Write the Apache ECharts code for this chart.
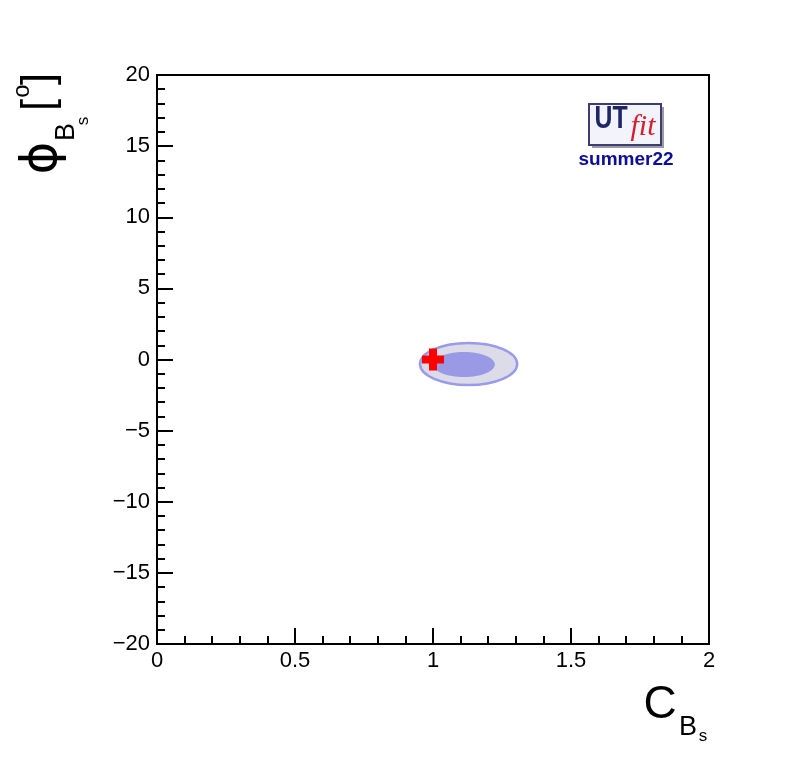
<!DOCTYPE html>
<html>
<head>
<meta charset="utf-8">
<script src="https://cdn.jsdelivr.net/npm/echarts@6/dist/echarts.min.js"></script>
<style>html,body{margin:0;padding:0;background:#fff}#c{width:788px;height:758px}</style>
</head>
<body>
<div id="c"></div>
<script>
// ---- data ----
const xTicks = [0, 0.5, 1, 1.5, 2];
const yTicks = [-20, -15, -10, -5, 0, 5, 10, 15, 20];
// contour ellipses: [centerX, centerY(deg), semiAxisX, semiAxisY(deg)]
const outerContour = [[1.129, -0.32, 0.176, 1.48]];
const innerContour = [[1.112, -0.35, 0.112, 0.88]];
// Standard Model point
const smPoint = [[1, 0]];

const chart = echarts.init(document.getElementById('c'));
const FONT = 'Liberation Sans, Arial, sans-serif';

function ellipseItem(fill, stroke, lw) {
  return function (params, api) {
    const c = api.coord([api.value(0), api.value(1)]);
    const s = api.size([api.value(2), api.value(3)]);
    return {
      type: 'ellipse',
      shape: { cx: c[0], cy: c[1], rx: s[0], ry: s[1] },
      style: { fill: fill, stroke: stroke, lineWidth: lw }
    };
  };
}

const fmt = v => (v < 0 ? '\u2212' + Math.abs(v) : String(v));

chart.setOption({
  animation: false,
  grid: { left: 157, top: 75, width: 552, height: 569, show: true, borderColor: '#000', borderWidth: 2, backgroundColor: 'transparent' },
  xAxis: {
    type: 'value', min: 0, max: 2, interval: 0.5,
    axisLine: { show: true, onZero: false, lineStyle: { color: '#000', width: 2 } },
    axisTick: { show: true, inside: true, length: 16, lineStyle: { color: '#000', width: 2 } },
    minorTick: { show: true, splitNumber: 5, length: 8, lineStyle: { color: '#000', width: 2 } },
    splitLine: { show: false },
    axisLabel: { color: '#000', fontSize: 22, fontFamily: FONT, margin: 6, showMinLabel: true, showMaxLabel: true,
      formatter: v => xTicks.includes(v) ? fmt(v) : '' }
  },
  yAxis: {
    type: 'value', min: -20, max: 20, interval: 5,
    axisLine: { show: true, onZero: false, lineStyle: { color: '#000', width: 2 } },
    axisTick: { show: true, inside: true, length: 16, lineStyle: { color: '#000', width: 2 } },
    minorTick: { show: true, splitNumber: 5, length: 8, lineStyle: { color: '#000', width: 2 } },
    splitLine: { show: false },
    axisLabel: { color: '#000', fontSize: 22, fontFamily: FONT, margin: 7, showMinLabel: true, showMaxLabel: true,
      formatter: v => yTicks.includes(v) ? fmt(v) : '' }
  },
  series: [
    { type: 'custom', coordinateSystem: 'cartesian2d', data: outerContour, renderItem: ellipseItem('#dcdce9', '#9a9aea', 2.5), z: 2 },
    { type: 'custom', coordinateSystem: 'cartesian2d', data: innerContour, renderItem: ellipseItem('#9999e6', null, 0), z: 3 },
    { type: 'scatter', data: smPoint, symbol: 'path://M7,0H15V7H22V15H15V22H7V15H0V7H7Z',
      symbolSize: 22, itemStyle: { color: '#ff0000', opacity: 1 }, z: 4, silent: true }
  ],
  graphic: [
    // x-axis title C_{B_s}
    { type: 'text', x: 660, y: 705, style: { text: 'C', font: '46px ' + FONT, fill: '#000', align: 'center', verticalAlign: 'middle' } },
    { type: 'text', x: 688, y: 728, style: { text: 'B', font: '27px ' + FONT, fill: '#000', align: 'center', verticalAlign: 'middle' } },
    { type: 'text', x: 703, y: 736, style: { text: 's', font: '17px ' + FONT, fill: '#000', align: 'center', verticalAlign: 'middle' } },
    // y-axis title phi_{B_s} [^o]
    { type: 'text', x: 43, y: 158, rotation: Math.PI / 2, style: { text: '\u03d5', font: '50px DejaVu Sans, ' + FONT, fill: '#000', align: 'center', verticalAlign: 'middle' } },
    { type: 'text', x: 67, y: 132, rotation: Math.PI / 2, style: { text: 'B', font: '27px ' + FONT, fill: '#000', align: 'center', verticalAlign: 'middle' } },
    { type: 'text', x: 83, y: 121, rotation: Math.PI / 2, style: { text: 's', font: '17px ' + FONT, fill: '#000', align: 'center', verticalAlign: 'middle' } },
    { type: 'text', x: 40, y: 105, rotation: Math.PI / 2, style: { text: '[', font: '44px ' + FONT, fill: '#000', align: 'center', verticalAlign: 'middle' } },
    { type: 'text', x: 40, y: 79, rotation: Math.PI / 2, style: { text: ']', font: '44px ' + FONT, fill: '#000', align: 'center', verticalAlign: 'middle' } },
    { type: 'text', x: 22, y: 91, rotation: Math.PI / 2, style: { text: 'o', font: '24px ' + FONT, fill: '#000', align: 'center', verticalAlign: 'middle' } },
    // UTfit logo
    { type: 'rect', shape: { x: 592, y: 107, width: 72, height: 41 }, style: { fill: '#9a9aa8' } },
    { type: 'rect', shape: { x: 589, y: 104, width: 72, height: 41 }, style: { fill: '#f3f3fb', stroke: '#3d3d70', lineWidth: 2 } },
    { type: 'text', x: 611, y: 119, scaleX: 0.8, style: { text: 'UT', font: 'bold 31px ' + FONT, fill: '#1f2566', align: 'center', verticalAlign: 'middle' } },
    { type: 'text', x: 643, y: 127, style: { text: 'fit', font: 'italic 30px Liberation Serif, serif', fill: '#d21e2d', align: 'center', verticalAlign: 'middle' } },
    { type: 'text', x: 626, y: 160, style: { text: 'summer22', font: 'bold 19px ' + FONT, fill: '#0d0d9a', align: 'center', verticalAlign: 'middle' } }
  ]
});
</script>
</body>
</html>
